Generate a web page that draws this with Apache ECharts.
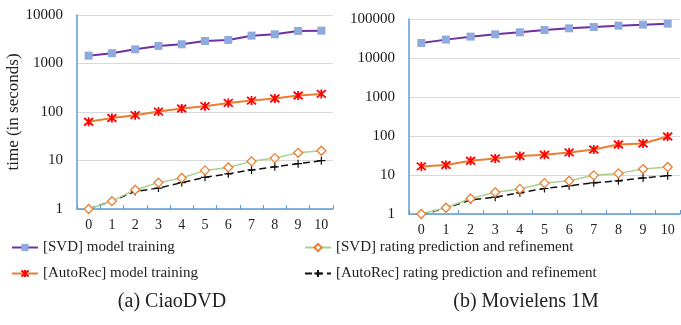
<!DOCTYPE html>
<html>
<head>
<meta charset="utf-8">
<script src="https://cdn.jsdelivr.net/npm/echarts@6/dist/echarts.min.js"></script>
<style>
  html, body { margin: 0; padding: 0; background: #fff; }
  #chart { width: 681px; height: 325px; }
</style>
</head>
<body>
<div id="chart"></div>
<script>
const categories = ['0', '1', '2', '3', '4', '5', '6', '7', '8', '9', '10'];

// (a) CiaoDVD
const ciaoSvdTrain = [1450, 1630, 1960, 2300, 2490, 2910, 3060, 3750, 4000, 4690, 4760];
const ciaoAutoTrain = [63, 75, 86, 102, 118, 132, 154, 172, 190, 219, 236];
const ciaoSvdRate = [1, 1.45, 2.5, 3.5, 4.35, 6.25, 7.2, 9.6, 11.2, 14.4, 15.9];
const ciaoAutoRate = [1, 1.46, 2.3, 2.7, 3.5, 4.5, 5.3, 6.4, 7.4, 8.6, 9.9];

// (b) Movielens 1M
const mlSvdTrain = [24300, 29600, 35300, 40500, 45600, 52300, 57700, 62400, 67500, 71600, 76000];
const mlAutoTrain = [16.6, 18, 23.2, 26.6, 30.5, 33, 37.9, 45.2, 60.7, 64.4, 97];
const mlSvdRate = [1, 1.45, 2.5, 3.6, 4.4, 6.2, 7.1, 9.8, 11, 14.2, 16];
const mlAutoRate = [1, 1.4, 2.3, 2.7, 3.5, 4.5, 5.3, 6.3, 7.1, 8.4, 9.6];

const names = [
  '[SVD] model training',
  '[AutoRec] model training',
  '[SVD] rating prediction and refinement',
  '[AutoRec] rating prediction and refinement'
];

const font = 'Liberation Serif';
const axisBlue = '#5b9bd5';

const starPath = 'path://M0 0L10 10M10 0L0 10M5 -1L5 11';
const plusPath = 'path://M5 0L5 10M0 5L10 5';

function xAxis(gridIndex) {
  return {
    type: 'category',
    gridIndex,
    data: categories,
    boundaryGap: true,
    axisLine: { lineStyle: { color: axisBlue, width: 1.5 } },
    axisTick: { show: true, inside: true, length: 4, lineStyle: { color: axisBlue } },
    axisLabel: { color: '#222', fontFamily: font, fontSize: 14, margin: 9 }
  };
}

function yAxis(gridIndex, max, name) {
  return {
    type: 'log',
    logBase: 10,
    gridIndex,
    min: 1,
    max,
    name,
    nameLocation: 'middle',
    nameGap: 50,
    nameTextStyle: { color: '#222', fontFamily: font, fontSize: 17 },
    axisLine: { show: true, lineStyle: { color: axisBlue, width: 1.5 } },
    axisTick: { show: false },
    axisLabel: {
      color: '#1a1a1a', fontFamily: font, fontSize: 15, margin: 14,
      formatter: v => String(Math.round(v))
    },
    splitLine: { lineStyle: { color: '#d9d9d9', width: 1.2 } }
  };
}

function seriesSet(idx, svdTrain, autoTrain, svdRate, autoRate) {
  return [
    {
      name: names[0], type: 'line', xAxisIndex: idx, yAxisIndex: idx,
      data: svdTrain, symbol: 'rect', symbolSize: 8,
      lineStyle: { color: '#7030a0', width: 2 },
      itemStyle: { color: '#8faadc' }
    },
    {
      name: names[1], type: 'line', xAxisIndex: idx, yAxisIndex: idx,
      data: autoTrain, symbol: starPath, symbolSize: 9,
      lineStyle: { color: '#ed7d31', width: 2 },
      itemStyle: { color: '#ff0000', borderColor: '#ff0000', borderWidth: 1.8 }
    },
    {
      name: names[3], type: 'line', xAxisIndex: idx, yAxisIndex: idx,
      data: autoRate, symbol: plusPath, symbolSize: 8,
      lineStyle: { color: '#111', width: 1.5, type: [7, 4] },
      itemStyle: { color: '#111', borderColor: '#111', borderWidth: 1.2 }
    },
    {
      name: names[2], type: 'line', xAxisIndex: idx, yAxisIndex: idx,
      data: svdRate, symbol: 'diamond', symbolSize: 9, z: 3,
      lineStyle: { color: '#a9d18e', width: 1.5 },
      itemStyle: { color: '#fff', borderColor: '#ed7d31', borderWidth: 1.3 }
    }
  ];
}

const chart = echarts.init(document.getElementById('chart'));
chart.setOption({
  animation: false,
  backgroundColor: '#fff',
  grid: [
    { left: 77, top: 15, width: 256, height: 194 },
    { left: 409, top: 19, width: 271, height: 195 }
  ],
  xAxis: [xAxis(0), xAxis(1)],
  yAxis: [yAxis(0, 10000, 'time (in seconds)'), yAxis(1, 100000, '')],
  legend: [
    {
      data: [names[0], names[1]], orient: 'vertical', left: 6, top: 235,
      itemWidth: 26, itemHeight: 9, itemGap: 11,
      textStyle: { fontFamily: font, fontSize: 15, color: '#222' }
    },
    {
      data: [names[2], names[3]], orient: 'vertical', left: 299, top: 235,
      itemWidth: 26, itemHeight: 9, itemGap: 11,
      textStyle: { fontFamily: font, fontSize: 15, color: '#222' }
    }
  ],
  title: [
    {
      text: '(a) CiaoDVD', left: 167, top: 287, textAlign: 'center',
      textStyle: { fontFamily: font, fontSize: 20, fontWeight: 'normal', color: '#222' }
    },
    {
      text: '(b) Movielens 1M', left: 521, top: 287, textAlign: 'center',
      textStyle: { fontFamily: font, fontSize: 20, fontWeight: 'normal', color: '#222' }
    }
  ],
  series: [
    ...seriesSet(0, ciaoSvdTrain, ciaoAutoTrain, ciaoSvdRate, ciaoAutoRate),
    ...seriesSet(1, mlSvdTrain, mlAutoTrain, mlSvdRate, mlAutoRate)
  ]
});
</script>
</body>
</html>
